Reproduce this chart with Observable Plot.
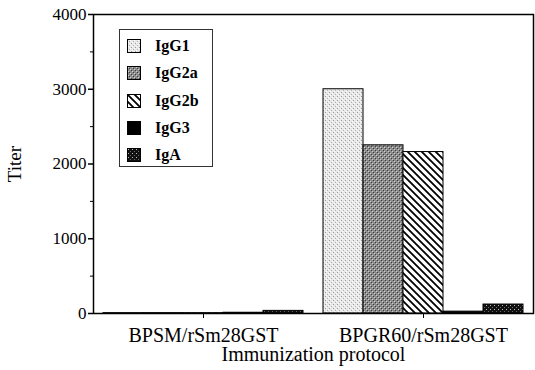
<!DOCTYPE html>
<html>
<head>
<meta charset="utf-8">
<script src="https://cdn.jsdelivr.net/npm/d3@7"></script>
<script src="https://cdn.jsdelivr.net/npm/@observablehq/plot@0.6"></script>
<style>
  body { margin: 0; background: white; }
  #wrap { position: relative; width: 535px; height: 370px; font-family: "Liberation Serif", "Times New Roman", serif; }
  #legend { position: absolute; left: 119px; top: 29px; width: 92px; height: 136px; border: 1px solid #333; background: white; }
  .row { position: absolute; left: 7px; height: 20px; display: flex; align-items: center; }
  .row svg { width: 14px; height: 14px; margin-right: 14px; }
  .row span { font-weight: bold; font-size: 16px; color: black; }
</style>
</head>
<body>
<svg width="0" height="0" style="position:absolute">
  <defs>
    <pattern id="pIgG1" patternUnits="userSpaceOnUse" width="4" height="4">
      <rect width="4" height="4" fill="#e8e8e8"/>
      <rect x="0" y="0" width="1" height="1" fill="#9a9a9a"/>
      <rect x="2" y="2" width="1" height="1" fill="#b0b0b0"/>
      <rect x="3" y="1" width="1" height="1" fill="#ffffff"/>
      <rect x="1" y="3" width="1" height="1" fill="#ffffff"/>
    </pattern>
    <pattern id="pIgG2a" patternUnits="userSpaceOnUse" width="4" height="4">
      <rect width="4" height="4" fill="#8c8c8c"/>
      <rect x="0" y="0" width="1" height="1" fill="#3a3a3a"/>
      <rect x="2" y="2" width="1" height="1" fill="#3a3a3a"/>
      <rect x="1" y="1" width="1" height="1" fill="#cfcfcf"/>
      <rect x="3" y="3" width="1" height="1" fill="#cfcfcf"/>
    </pattern>
    <pattern id="pIgG2b" patternUnits="userSpaceOnUse" width="7" height="7">
      <rect width="7" height="7" fill="white"/>
      <path d="M-1,-1 L8,8 M-1,6 L1,8 M6,-1 L8,1" stroke="black" stroke-width="1.8"/>
    </pattern>
    <pattern id="pIgG3" patternUnits="userSpaceOnUse" width="4" height="4">
      <rect width="4" height="4" fill="black"/>
    </pattern>
    <pattern id="pIgA" patternUnits="userSpaceOnUse" width="4" height="4">
      <rect width="4" height="4" fill="#111"/>
      <rect x="1" y="1" width="1" height="1" fill="#bdbdbd"/>
      <rect x="3" y="3" width="1" height="1" fill="#666"/>
    </pattern>
  </defs>
</svg>
<div id="wrap"></div>
<script>
const groups = ["BPSM/rSm28GST", "BPGR60/rSm28GST"];
const series = ["IgG1", "IgG2a", "IgG2b", "IgG3", "IgA"];
const bpsmValues = [5, 5, 5, 10, 35];
const bpgr60Values = [3000, 2250, 2160, 25, 120];
const yTicks = [0, 1000, 2000, 3000, 4000];
const yMinorTicks = [500, 1500, 2500, 3500];
const patternIds = ["pIgG1", "pIgG2a", "pIgG2b", "pIgG3", "pIgA"];

const data = [];
series.forEach((s, i) => {
  data.push({group: groups[0], series: s, value: bpsmValues[i]});
  data.push({group: groups[1], series: s, value: bpgr60Values[i]});
});

const chart = Plot.plot({
  width: 535,
  height: 370,
  marginLeft: 92,
  marginRight: 2,
  marginTop: 14,
  marginBottom: 57,
  style: {fontFamily: "'Liberation Serif', 'Times New Roman', serif", fontSize: "17px", color: "black", background: "white"},
  fx: {domain: groups, paddingInner: 0, paddingOuter: 0},
  x: {domain: series, paddingInner: 0, paddingOuter: 0.25, axis: null},
  y: {domain: [0, 4000]},
  color: {domain: series, range: patternIds.map(id => `url(#${id})`)},
  marks: [
    Plot.barY(data, {fx: "group", x: "series", y: "value", fill: "series", stroke: "black", strokeWidth: 1}),
    Plot.frame({facet: "super", stroke: "black", strokeWidth: 1.5}),
    Plot.axisY({ticks: yTicks, tickSize: 5, tickPadding: 2, fontSize: 17, tickFormat: d => String(d), label: null, strokeWidth: 1.5}),
    Plot.axisY({ticks: yMinorTicks, tickSize: 3, text: null, label: null}),
    Plot.axisY({ticks: [], label: "Titer", labelAnchor: "center", labelOffset: 86, labelArrow: "none", fontSize: 19}),
    Plot.axisFx({anchor: "bottom", tickSize: 5, tickPadding: 9, fontSize: 20, label: "Immunization protocol", labelAnchor: "center", labelOffset: 47, labelArrow: "none"})
  ]
});
const wrap = document.getElementById("wrap");
wrap.appendChild(chart);

const legend = document.createElement("div");
legend.id = "legend";
series.forEach((s, i) => {
  const row = document.createElement("div");
  row.className = "row";
  row.style.top = (6 + i * 27.3) + "px";
  row.innerHTML = `<svg viewBox="0 0 14 14"><rect x="0.5" y="0.5" width="13" height="13" fill="url(#${patternIds[i]})" stroke="black" stroke-width="1"/></svg><span>${s}</span>`;
  legend.appendChild(row);
});
wrap.appendChild(legend);
</script>
</body>
</html>
